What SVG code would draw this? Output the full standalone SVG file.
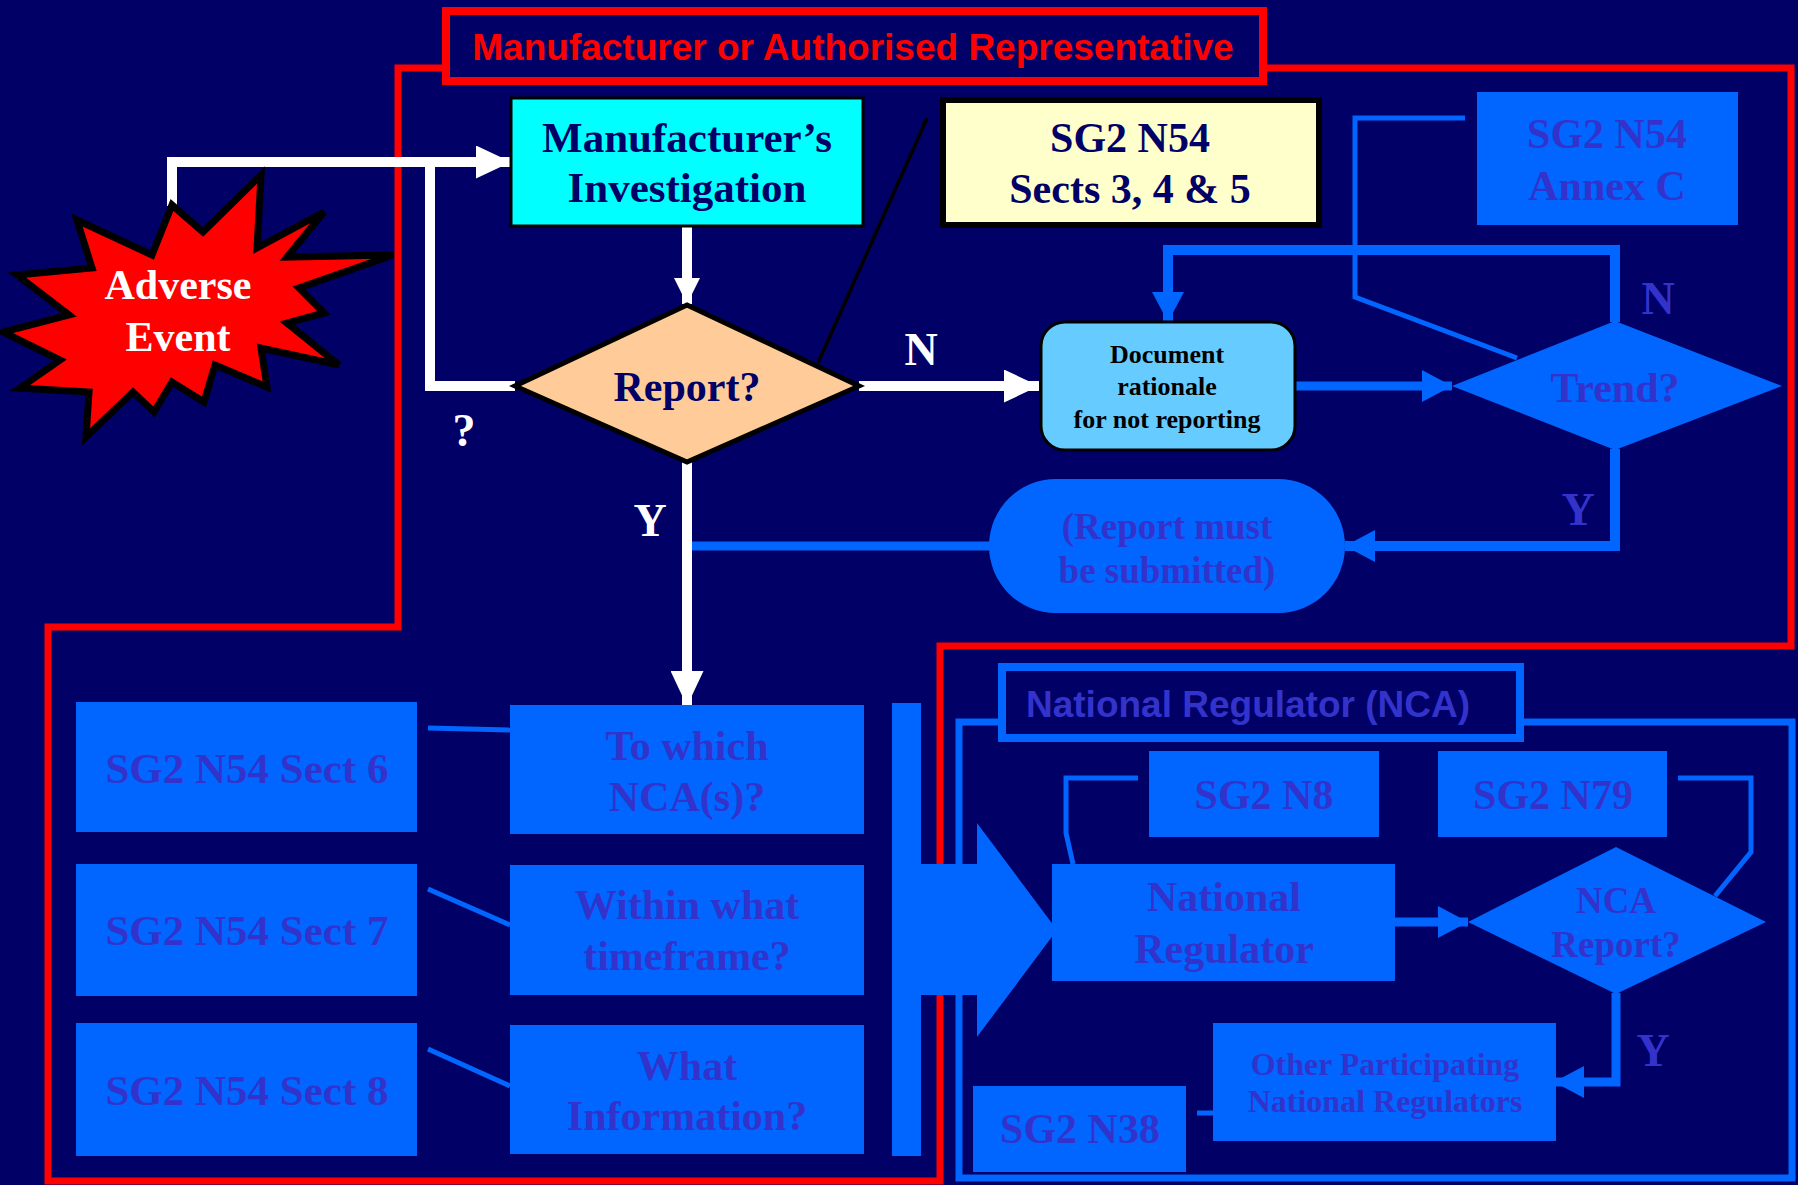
<svg xmlns="http://www.w3.org/2000/svg" width="1798" height="1185" viewBox="0 0 1798 1185">
<style>
.serif{font-family:"Liberation Serif","Times New Roman",serif;font-weight:bold;text-anchor:middle}
.sans{font-family:"Liberation Sans",Arial,sans-serif;font-weight:bold}
.blu{fill:#0066FF}
.bt{fill:#3333CC}
.nv{fill:#000066}
.wl{stroke:#FFFFFF;stroke-width:10;fill:none}
.bl{stroke:#0066FF;fill:none}
.thin{stroke-width:5}
.thick{stroke-width:9}
</style>
<defs>
<marker id="aw" viewBox="0 0 35 33" refX="35" refY="16.5" markerWidth="35" markerHeight="33" markerUnits="userSpaceOnUse" orient="auto"><path d="M0,0 L35,16.5 L0,33 z" fill="#FFFFFF"/></marker>
<marker id="aws" viewBox="0 0 26 26" refX="26" refY="13" markerWidth="26" markerHeight="26" markerUnits="userSpaceOnUse" orient="auto"><path d="M0,0 L26,13 L0,26 z" fill="#FFFFFF"/></marker>
<marker id="ab" viewBox="0 0 30 32" refX="30" refY="16" markerWidth="30" markerHeight="32" markerUnits="userSpaceOnUse" orient="auto"><path d="M0,0 L30,16 L0,32 z" fill="#0066FF"/></marker>
</defs>
<rect width="1798" height="1185" fill="#000066"/>

<g id="boundaries" fill="none">
<path d="M444,68 H398 V627 H48 V1181 H940 V646 H1791 V68 H1263" stroke="#FF0000" stroke-width="7"/>
<rect x="446" y="11" width="817" height="70" stroke="#FF0000" stroke-width="8"/>
<path d="M1002,722 H959 V1178 H1792 V722 H1520" stroke="#0066FF" stroke-width="7"/>
<rect x="1002" y="667" width="518" height="71" stroke="#0066FF" stroke-width="8"/>
<text class="sans" x="853" y="60" font-size="37" fill="#FF0000" text-anchor="middle">Manufacturer or Authorised Representative</text>
<text class="sans bt" x="1026" y="717" font-size="37">National Regulator (NCA)</text>
</g>

<g id="transfer-arrow">
<rect class="blu" x="892" y="703" width="29" height="453"/>
<polygon class="blu" points="921,864 977,864 977,823 1057,930 977,1037 977,995 921,995"/>
</g>

<g id="connectors">
<path class="wl" d="M172,206 V162 H511" marker-end="url(#aw)"/>
<path class="wl" d="M515,386 H430 V162"/>
<path class="wl" d="M687,227 V304" marker-end="url(#aws)"/>
<path class="wl" d="M859,386 H1039" marker-end="url(#aw)"/>
<path class="bl thick" d="M692,546 H990"/>
<path class="wl" d="M687,462 V706" marker-end="url(#aw)"/>
<line x1="818" y1="363" x2="927" y2="118" stroke="#000000" stroke-width="3.5"/>
<path class="bl thick" d="M1295,386 H1452" marker-end="url(#ab)"/>
<path class="bl" stroke-width="10" d="M1615,322 V250 H1168 V322" marker-end="url(#ab)"/>
<path class="bl" stroke-width="10" d="M1615,449 V546 H1345" marker-end="url(#ab)"/>
<path class="bl thin" d="M1465,118 H1355 V297 L1517,358"/>
<path class="bl thin" d="M428,728 L510,730"/>
<path class="bl thin" d="M428,889 L510,925"/>
<path class="bl thin" d="M428,1049 L510,1086"/>
<path class="bl thin" d="M1138,778 H1066 V833 L1073,864"/>
<path class="bl thin" d="M1678,778 H1751 V852 L1715,896"/>
<path class="bl thick" d="M1395,922 H1468" marker-end="url(#ab)"/>
<path class="bl thick" d="M1616,993 V1082 H1554" marker-end="url(#ab)"/>
<path class="bl thin" d="M1197,1113 H1213"/>
<text class="serif" x="464" y="446" font-size="46" fill="#FFFFFF">?</text>
<text class="serif" x="921" y="365" font-size="46" fill="#FFFFFF">N</text>
<text class="serif" x="650" y="536" font-size="46" fill="#FFFFFF">Y</text>
<text class="serif bt" x="1658" y="314" font-size="46">N</text>
<text class="serif bt" x="1578" y="525" font-size="46">Y</text>
<text class="serif bt" x="1653" y="1066" font-size="46">Y</text>
</g>

<g id="adverse-event">
<polygon points="172,205 203,232 261,175 257,248 324,212 287,257 393,255 299,288 324,313 287,323 339,365 261,348 267,387 215,365 204,402 172,382 154,412 133,392 86,437 89,392 20,388 60,360 3,332 69,315 17,275 92,268 77,220 152,255" fill="#FF0000" stroke="#000000" stroke-width="7" stroke-linejoin="miter"/>
<text class="serif" x="178" y="299" font-size="42" fill="#FFFFFF">Adverse</text>
<text class="serif" x="178" y="351" font-size="42" fill="#FFFFFF">Event</text>
</g>

<g id="manufacturers-investigation">
<rect x="511" y="98" width="352" height="128" fill="#00FFFF" stroke="#000000" stroke-width="3"/>
<text class="serif nv" x="687" y="152" font-size="43">Manufacturer’s</text>
<text class="serif nv" x="687" y="202" font-size="43">Investigation</text>
</g>

<g id="report-decision">
<polygon points="687,305 859,386 687,462 515,386" fill="#FFCC99" stroke="#000000" stroke-width="5"/>
<text class="serif nv" x="687" y="401" font-size="42">Report?</text>
</g>

<g id="sg2-n54-sects-3-4-5">
<rect x="943" y="100" width="376" height="125" fill="#FFFFCC" stroke="#000000" stroke-width="6"/>
<text class="serif nv" x="1130" y="152" font-size="42">SG2 N54</text>
<text class="serif nv" x="1130" y="203" font-size="42">Sects 3, 4 &amp; 5</text>
</g>

<g id="document-rationale">
<rect x="1041" y="322" width="254" height="128" rx="24" fill="#66CCFF" stroke="#000000" stroke-width="3"/>
<text class="serif" x="1167" y="363" font-size="26" fill="#000000">Document</text>
<text class="serif" x="1167" y="395" font-size="26" fill="#000000">rationale</text>
<text class="serif" x="1167" y="428" font-size="26" fill="#000000">for not reporting</text>
</g>

<g id="sg2-n54-annex-c">
<rect class="blu" x="1477" y="92" width="261" height="133"/>
<text class="serif bt" x="1607" y="148" font-size="42">SG2 N54</text>
<text class="serif bt" x="1607" y="200" font-size="42">Annex C</text>
</g>

<g id="trend-decision">
<polygon class="blu" points="1615,321 1782,386 1615,450 1452,386"/>
<text class="serif bt" x="1615" y="402" font-size="42">Trend?</text>
</g>

<g id="report-must-be-submitted">
<rect class="blu" x="989" y="479" width="356" height="134" rx="67"/>
<text class="serif bt" x="1167" y="539" font-size="37">(Report must</text>
<text class="serif bt" x="1167" y="583" font-size="37">be submitted)</text>
</g>

<g id="sg2-n54-sect-6">
<rect class="blu" x="76" y="702" width="341" height="130"/>
<text class="serif bt" x="247" y="783" font-size="43">SG2 N54 Sect 6</text>
</g>
<g id="sg2-n54-sect-7">
<rect class="blu" x="76" y="864" width="341" height="132"/>
<text class="serif bt" x="247" y="945" font-size="43">SG2 N54 Sect 7</text>
</g>
<g id="sg2-n54-sect-8">
<rect class="blu" x="76" y="1023" width="341" height="133"/>
<text class="serif bt" x="247" y="1105" font-size="43">SG2 N54 Sect 8</text>
</g>

<g id="to-which-nca">
<rect class="blu" x="510" y="705" width="354" height="129"/>
<text class="serif bt" x="687" y="760" font-size="42">To which</text>
<text class="serif bt" x="687" y="811" font-size="42">NCA(s)?</text>
</g>
<g id="within-what-timeframe">
<rect class="blu" x="510" y="865" width="354" height="130"/>
<text class="serif bt" x="687" y="919" font-size="42">Within what</text>
<text class="serif bt" x="687" y="970" font-size="42">timeframe?</text>
</g>
<g id="what-information">
<rect class="blu" x="510" y="1025" width="354" height="129"/>
<text class="serif bt" x="687" y="1080" font-size="42">What</text>
<text class="serif bt" x="687" y="1130" font-size="42">Information?</text>
</g>

<g id="sg2-n8">
<rect class="blu" x="1149" y="751" width="230" height="86"/>
<text class="serif bt" x="1264" y="809" font-size="42">SG2 N8</text>
</g>
<g id="sg2-n79">
<rect class="blu" x="1438" y="751" width="229" height="86"/>
<text class="serif bt" x="1553" y="809" font-size="42">SG2 N79</text>
</g>
<g id="national-regulator">
<rect class="blu" x="1052" y="864" width="343" height="117"/>
<text class="serif bt" x="1224" y="911" font-size="42">National</text>
<text class="serif bt" x="1224" y="963" font-size="42">Regulator</text>
</g>
<g id="nca-report-decision">
<polygon class="blu" points="1616,847 1766,922 1616,994 1468,922"/>
<text class="serif bt" x="1616" y="913" font-size="37">NCA</text>
<text class="serif bt" x="1616" y="957" font-size="37">Report?</text>
</g>
<g id="other-participating">
<rect class="blu" x="1213" y="1023" width="343" height="118"/>
<text class="serif bt" x="1385" y="1075" font-size="32">Other Participating</text>
<text class="serif bt" x="1385" y="1112" font-size="32">National Regulators</text>
</g>
<g id="sg2-n38">
<rect class="blu" x="973" y="1086" width="213" height="86"/>
<text class="serif bt" x="1080" y="1143" font-size="42">SG2 N38</text>
</g>
</svg>
